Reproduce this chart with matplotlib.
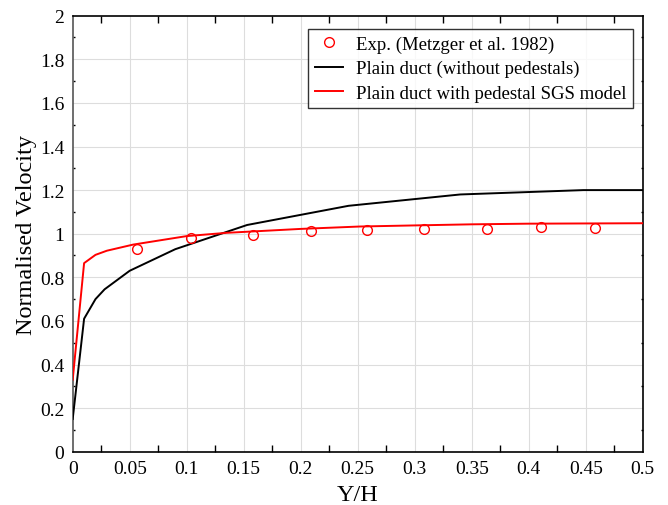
import matplotlib
matplotlib.use("Agg")
import matplotlib.pyplot as plt
import numpy as np

plt.rcParams['font.family'] = ['Liberation Serif', 'DejaVu Serif']
plt.rcParams['mathtext.fontset'] = 'stix'

# Data
exp_x = [0.0567, 0.1038, 0.1585, 0.209, 0.258, 0.308, 0.363, 0.411, 0.458]
exp_v = [0.93, 0.979, 0.994, 1.011, 1.017, 1.02, 1.02, 1.03, 1.025]

plain_x = [0.0, 0.01, 0.02, 0.028, 0.05, 0.09, 0.153, 0.242, 0.34, 0.448, 0.5]
plain_v = [0.15, 0.61, 0.70, 0.745, 0.83, 0.929, 1.04, 1.128, 1.18, 1.2, 1.2]

ped_x = [0.0, 0.01, 0.02, 0.03, 0.053, 0.1, 0.135, 0.2, 0.252, 0.3, 0.35, 0.4, 0.5]
ped_v = [0.33, 0.865, 0.903, 0.922, 0.95, 0.989, 1.004, 1.022, 1.033, 1.038, 1.043, 1.046, 1.048]

xticks = [0, 0.05, 0.1, 0.15, 0.2, 0.25, 0.3, 0.35, 0.4, 0.45, 0.5]
xticklabels = ["0", "0.05", "0.1", "0.15", "0.2", "0.25", "0.3", "0.35", "0.4", "0.45", "0.5"]
yticks = [0, 0.2, 0.4, 0.6, 0.8, 1.0, 1.2, 1.4, 1.6, 1.8, 2.0]
yticklabels = ["0", "0.2", "0.4", "0.6", "0.8", "1", "1.2", "1.4", "1.6", "1.8", "2"]

fig = plt.figure(figsize=(6.68, 5.06), dpi=100)
ax = fig.add_axes([72.7/668, 1-452.7/506, (642.7-72.7)/668, (452.7-16.7)/506])

ax.plot(exp_x, exp_v, linestyle='none', marker='o', markersize=7,
        markerfacecolor='none', markeredgecolor='red', markeredgewidth=1.0,
        label='Exp. (Metzger et al. 1982)', zorder=4)
ax.plot(plain_x, plain_v, color='black', lw=1.4, label='Plain duct (without pedestals)', zorder=3)
ax.plot(ped_x, ped_v, color='red', lw=1.4, label='Plain duct with pedestal SGS model', zorder=3)

ax.set_xlim(0, 0.5)
ax.set_ylim(0, 2)

# Gridlines at labelled values
for xv in xticks[1:-1]:
    ax.axvline(xv, color='#dddddd', lw=0.8, zorder=0)
for yv in yticks[1:-1]:
    ax.axhline(yv, color='#dddddd', lw=0.8, zorder=0)

ax.set_xticks(xticks)
ax.set_xticklabels(xticklabels)
ax.set_yticks(yticks)
ax.set_yticklabels(yticklabels)
ax.tick_params(axis='both', which='major', length=0, labelsize=14, pad=6)

# Tick marks at half positions (inward)
ax.set_xticks([0.025 + 0.05*i for i in range(10)], minor=True)
ax.tick_params(axis='x', which='minor', direction='in', length=5, width=1.0,
               top=True, bottom=True, color='black')
ax.set_yticks([0.1 + 0.2*i for i in range(10)], minor=True)
ax.tick_params(axis='y', which='minor', direction='in', length=1.2, width=1.0,
               left=True, right=True, color='black')

for s in ax.spines.values():
    s.set_linewidth(1.2)
ax.spines['left'].set_color('#555555')

ax.set_xlabel('Y/H', fontsize=17.5, labelpad=5)
ax.set_ylabel('Normalised Velocity', fontsize=17.5, labelpad=2)

leg = ax.legend(loc='upper right', bbox_to_anchor=(633/668, 1-30/506), bbox_transform=fig.transFigure,
                fontsize=13.5, frameon=True, fancybox=False, edgecolor='black',
                handlelength=1.5, handletextpad=0.7, borderpad=0.35, labelspacing=0.38,
                borderaxespad=0)
leg.get_frame().set_linewidth(1.0)

fig.savefig('out.png', dpi=100)
